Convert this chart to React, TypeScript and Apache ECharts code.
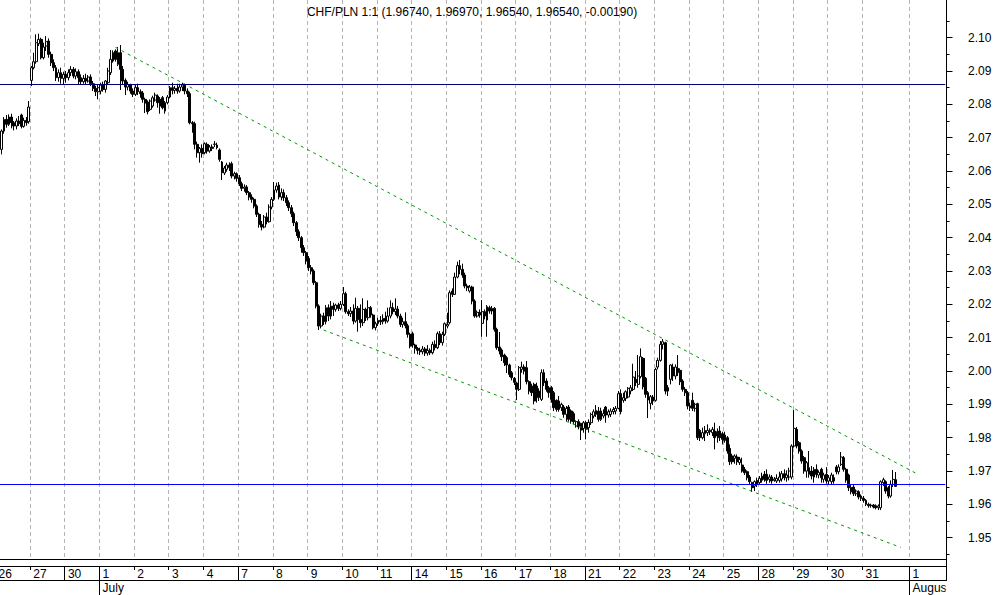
import React, { useEffect, useRef } from "react";
import * as echarts from "echarts";

// ---------- text ----------
const chartTitle = "CHF/PLN 1:1 (1.96740, 1.96970, 1.96540, 1.96540, -0.00190)";

// trading days shown on the x axis (June 26 .. July 31)
const dayLabels = ["26", "27", "30", "1", "2", "3", "4", "7", "8", "9", "10", "11", "14", "15", "16", "17", "18", "21", "22", "23", "24", "25", "28", "29", "30", "31"];
const weekStartIndex = [2, 7, 12, 17, 22]; // Mondays (index into dayLabels)
const monthStartIndex = 3; // July 1
const monthLabels = ["July", "August"];
const nextMonthDayLabel = "1";

// y axis ticks
const yMajorTicks = [1.95, 1.96, 1.97, 1.98, 1.99, 2.0, 2.01, 2.02, 2.03, 2.04, 2.05, 2.06, 2.07, 2.08, 2.09, 2.1];
const yMinorTicks = [1.945, 1.955, 1.965, 1.975, 1.985, 1.995, 2.005, 2.015, 2.025, 2.035, 2.045, 2.055, 2.065, 2.075, 2.085, 2.095, 2.105];
const yMin = 1.94361;
const yMax = 2.11131;

// horizontal levels and trend channel (slot index, price)
const levelUpper = 2.08596;
const levelLower = 1.96596;
const trendUpper = [[48, 2.0971], [371, 1.9694]];
const trendLower = [[132, 2.0123], [365, 1.9471]];

// ---------- candles: [open, close, low, high] ----------
const jun26 = [
  [2.0665, 2.072, 2.065, 2.0725], [2.072, 2.0755, 2.0712, 2.0762], [2.0755, 2.074, 2.073, 2.0768], [2.074, 2.0762, 2.0735, 2.077],
  [2.0762, 2.0745, 2.0728, 2.0772], [2.0745, 2.0735, 2.0722, 2.075], [2.0735, 2.075, 2.0725, 2.0758], [2.075, 2.0742, 2.0735, 2.0765],
  [2.0768, 2.0734, 2.0728, 2.0772], [2.0734, 2.0752, 2.073, 2.076], [2.0752, 2.0745, 2.0736, 2.0762], [2.0748, 2.0792, 2.0742, 2.081],
];
const jun27 = [
  [2.0872, 2.091, 2.0855, 2.0915], [2.091, 2.0928, 2.0905, 2.0955], [2.0928, 2.0985, 2.0922, 2.101], [2.0982, 2.0995, 2.0975, 2.1012],
  [2.0995, 2.094, 2.0935, 2.1], [2.094, 2.0972, 2.0935, 2.0985], [2.0975, 2.0988, 2.096, 2.1005], [2.099, 2.095, 2.094, 2.0998],
  [2.095, 2.0925, 2.0915, 2.0958], [2.0925, 2.091, 2.09, 2.0935], [2.091, 2.088, 2.087, 2.0918], [2.088, 2.0895, 2.0868, 2.0905],
  [2.0895, 2.0878, 2.0862, 2.091], [2.0878, 2.089, 2.086, 2.0898],
];
const jun30 = [
  [2.089, 2.088, 2.0865, 2.09], [2.088, 2.0895, 2.0872, 2.0905], [2.0895, 2.0905, 2.0885, 2.0915], [2.0905, 2.0885, 2.0878, 2.0912],
  [2.0885, 2.0898, 2.0875, 2.0908], [2.0898, 2.088, 2.086, 2.0905], [2.088, 2.0868, 2.0858, 2.089], [2.0868, 2.0878, 2.0862, 2.0888],
  [2.0878, 2.087, 2.086, 2.0892], [2.087, 2.0882, 2.0865, 2.0888], [2.0882, 2.0862, 2.0855, 2.089], [2.0862, 2.0848, 2.084, 2.087],
  [2.0848, 2.0838, 2.0825, 2.0856], [2.0838, 2.085, 2.0815, 2.0858],
];
const jul01 = [
  [2.084, 2.0858, 2.083, 2.0865], [2.0858, 2.0845, 2.0838, 2.0868], [2.0845, 2.087, 2.0835, 2.0873], [2.0865, 2.09, 2.086, 2.091],
  [2.0895, 2.0935, 2.0888, 2.0963], [2.0955, 2.093, 2.0925, 2.0962], [2.096, 2.0935, 2.0928, 2.0965], [2.092, 2.0955, 2.0915, 2.0972],
  [2.0955, 2.0905, 2.0843, 2.0978], [2.0905, 2.087, 2.086, 2.0915], [2.0872, 2.0852, 2.0828, 2.0878], [2.0852, 2.086, 2.0842, 2.0868],
  [2.0858, 2.084, 2.0832, 2.0862], [2.084, 2.083, 2.0822, 2.0848],
];
const jul02 = [
  [2.083, 2.085, 2.0825, 2.0858], [2.085, 2.0838, 2.0828, 2.0862], [2.0838, 2.0832, 2.082, 2.0845], [2.0834, 2.0815, 2.0805, 2.084],
  [2.0815, 2.0804, 2.0774, 2.082], [2.0807, 2.0778, 2.077, 2.0812], [2.0785, 2.081, 2.078, 2.0815], [2.0795, 2.082, 2.079, 2.0826],
  [2.0813, 2.0828, 2.0808, 2.0835], [2.0825, 2.0805, 2.079, 2.083], [2.0815, 2.0795, 2.0772, 2.0822], [2.082, 2.079, 2.0785, 2.0825],
  [2.0805, 2.078, 2.0772, 2.081], [2.0805, 2.0822, 2.08, 2.0828],
];
const jul03 = [
  [2.0822, 2.085, 2.0818, 2.0855], [2.085, 2.0842, 2.083, 2.0865], [2.0842, 2.0848, 2.0832, 2.0855], [2.0848, 2.084, 2.0832, 2.0862],
  [2.084, 2.0852, 2.0835, 2.0862], [2.0852, 2.0858, 2.084, 2.0865], [2.0858, 2.084, 2.083, 2.0862], [2.084, 2.0832, 2.0822, 2.0848],
  [2.0832, 2.0745, 2.074, 2.0838], [2.0745, 2.0742, 2.0715, 2.075], [2.0742, 2.068, 2.0665, 2.0748], [2.068, 2.0655, 2.064, 2.0688],
  [2.0655, 2.0668, 2.0625, 2.0672], [2.0668, 2.0652, 2.064, 2.068],
];
const jul04 = [
  [2.0655, 2.0682, 2.065, 2.0686], [2.068, 2.066, 2.0652, 2.0686], [2.066, 2.0672, 2.0655, 2.0678], [2.0672, 2.0668, 2.066, 2.068],
  [2.068, 2.0681, 2.0672, 2.069], [2.0678, 2.067, 2.0665, 2.0685], [2.0663, 2.0635, 2.0628, 2.0668], [2.0627, 2.0595, 2.0573, 2.063],
  [2.0594, 2.0609, 2.0588, 2.0615], [2.0605, 2.0618, 2.0598, 2.0625], [2.0618, 2.061, 2.06, 2.0626], [2.0622, 2.0585, 2.0578, 2.0628],
  [2.0585, 2.0592, 2.0575, 2.0598], [2.0592, 2.0578, 2.0568, 2.0596],
];
const jul07 = [
  [2.058, 2.0562, 2.0555, 2.0588], [2.0562, 2.0548, 2.054, 2.0568], [2.0548, 2.0552, 2.0538, 2.056], [2.0552, 2.0535, 2.0528, 2.0558],
  [2.0535, 2.0522, 2.0512, 2.054], [2.0522, 2.0515, 2.0505, 2.053], [2.0515, 2.0495, 2.0488, 2.052], [2.0495, 2.047, 2.0462, 2.05],
  [2.047, 2.044, 2.043, 2.0475], [2.044, 2.0432, 2.0422, 2.045], [2.0432, 2.0462, 2.0428, 2.0468], [2.0462, 2.0448, 2.044, 2.0475],
  [2.0448, 2.0492, 2.0445, 2.05], [2.0492, 2.0515, 2.0485, 2.0522],
];
const jul08 = [
  [2.0515, 2.0543, 2.051, 2.0567], [2.0543, 2.0555, 2.0535, 2.0565], [2.0558, 2.0522, 2.0515, 2.0567], [2.0522, 2.0535, 2.0512, 2.0548],
  [2.0535, 2.052, 2.051, 2.0545], [2.052, 2.0505, 2.0495, 2.0528], [2.0505, 2.049, 2.048, 2.0512], [2.049, 2.0472, 2.0462, 2.0498],
  [2.0472, 2.0445, 2.0435, 2.0478], [2.0445, 2.0418, 2.0405, 2.045], [2.0418, 2.04, 2.039, 2.0425], [2.04, 2.037, 2.0355, 2.0405],
  [2.037, 2.0355, 2.0345, 2.0378], [2.0355, 2.033, 2.032, 2.036],
];
const jul09 = [
  [2.0338, 2.031, 2.03, 2.0345], [2.031, 2.03, 2.029, 2.0318], [2.03, 2.0265, 2.0258, 2.0305], [2.0265, 2.0195, 2.0188, 2.027],
  [2.0195, 2.0135, 2.0123, 2.02], [2.0135, 2.0165, 2.0128, 2.0172], [2.0165, 2.0148, 2.0138, 2.0175], [2.0148, 2.019, 2.014, 2.0198],
  [2.019, 2.0165, 2.015, 2.02], [2.0165, 2.0195, 2.0155, 2.021], [2.0195, 2.0185, 2.0165, 2.0205], [2.0185, 2.0198, 2.0178, 2.0202],
  [2.0198, 2.0188, 2.018, 2.0205], [2.0188, 2.02, 2.0182, 2.021],
];
const jul10 = [
  [2.02, 2.0232, 2.0195, 2.0252], [2.0232, 2.0178, 2.0172, 2.0238], [2.0178, 2.0172, 2.0165, 2.0185], [2.0172, 2.018, 2.0162, 2.0192],
  [2.018, 2.015, 2.014, 2.02], [2.015, 2.0188, 2.0145, 2.022], [2.0188, 2.0155, 2.0118, 2.0195], [2.0155, 2.0145, 2.013, 2.02],
  [2.0145, 2.0185, 2.0135, 2.0218], [2.0185, 2.016, 2.015, 2.019], [2.016, 2.019, 2.0152, 2.0212], [2.019, 2.0168, 2.016, 2.0195],
  [2.0168, 2.013, 2.0125, 2.0172], [2.013, 2.0142, 2.0122, 2.0148],
];
const jul11 = [
  [2.0142, 2.0152, 2.0135, 2.016], [2.0152, 2.0148, 2.0138, 2.0165], [2.0148, 2.0158, 2.014, 2.017], [2.0158, 2.015, 2.0142, 2.0178],
  [2.015, 2.0165, 2.0145, 2.019], [2.0165, 2.019, 2.0158, 2.0212], [2.019, 2.0178, 2.017, 2.0205], [2.0178, 2.0186, 2.0168, 2.0218],
  [2.0186, 2.0165, 2.0158, 2.0195], [2.0165, 2.014, 2.0132, 2.0172], [2.014, 2.0148, 2.013, 2.016], [2.0148, 2.0136, 2.0128, 2.0176],
  [2.0136, 2.011, 2.01, 2.0142], [2.011, 2.0075, 2.0068, 2.0115],
];
const jul14 = [
  [2.0112, 2.0078, 2.007, 2.0118], [2.0078, 2.0068, 2.0052, 2.0082], [2.0068, 2.0062, 2.005, 2.0072], [2.0062, 2.0058, 2.0048, 2.007],
  [2.0058, 2.0066, 2.005, 2.0075], [2.0066, 2.0054, 2.0045, 2.0072], [2.0054, 2.0062, 2.0046, 2.0078], [2.0062, 2.0055, 2.0048, 2.0068],
  [2.0055, 2.008, 2.005, 2.0088], [2.008, 2.007, 2.0062, 2.0092], [2.007, 2.0112, 2.0066, 2.0118], [2.0112, 2.0085, 2.0078, 2.012],
  [2.0085, 2.011, 2.0076, 2.0118], [2.011, 2.0142, 2.0105, 2.0146],
];
const jul15 = [
  [2.0135, 2.014, 2.0128, 2.0175], [2.0145, 2.0235, 2.014, 2.0242], [2.024, 2.023, 2.0222, 2.0248], [2.023, 2.0282, 2.0228, 2.0295],
  [2.0282, 2.0316, 2.0278, 2.0328], [2.0316, 2.0305, 2.029, 2.0333], [2.0305, 2.0288, 2.028, 2.0322], [2.0288, 2.0255, 2.0248, 2.0295],
  [2.0255, 2.025, 2.024, 2.0262], [2.024, 2.0252, 2.0235, 2.0258], [2.0252, 2.021, 2.02, 2.0256], [2.021, 2.0165, 2.016, 2.0215],
  [2.0165, 2.0176, 2.016, 2.0182], [2.0176, 2.0168, 2.016, 2.0185],
];
const jul16 = [
  [2.0143, 2.0178, 2.0103, 2.0213], [2.0178, 2.0165, 2.0155, 2.0185], [2.0153, 2.0193, 2.0103, 2.0198], [2.019, 2.018, 2.0172, 2.0196],
  [2.018, 2.0188, 2.017, 2.0195], [2.0188, 2.0125, 2.0118, 2.0192], [2.0125, 2.007, 2.0064, 2.013], [2.0072, 2.006, 2.005, 2.0117],
  [2.0063, 2.0043, 2.003, 2.0068], [2.0048, 2.0025, 2.0015, 2.0052], [2.004, 2.0018, 1.9994, 2.0045], [2.0018, 1.999, 1.9982, 2.0022],
  [1.9995, 1.998, 1.9972, 2.0], [1.9978, 1.9966, 1.9958, 1.9982],
];
const jul17 = [
  [1.9964, 1.9945, 1.9913, 1.9968], [1.9945, 2.001, 1.994, 2.0015], [2.0005, 2.0012, 1.9995, 2.0028], [2.0012, 2.0, 1.999, 2.002],
  [2.001, 1.9968, 1.996, 2.003], [1.9968, 1.994, 1.993, 1.9972], [1.9955, 1.9935, 1.9925, 1.9962], [1.996, 1.991, 1.99, 1.9965],
  [1.9955, 1.992, 1.9905, 1.9965], [1.992, 1.994, 1.991, 1.9948], [1.9915, 1.9995, 1.991, 2.0005], [1.9995, 1.9965, 1.9955, 2.0005],
  [1.997, 1.9945, 1.9938, 1.9978], [1.995, 1.9935, 1.992, 1.9955],
];
const jul18 = [
  [1.995, 1.9915, 1.9905, 1.9955], [1.9935, 1.989, 1.988, 1.994], [1.9912, 1.9885, 1.9878, 1.9915], [1.991, 1.9885, 1.9878, 1.9925],
  [1.989, 1.99, 1.988, 1.9905], [1.9892, 1.987, 1.986, 1.9898], [1.987, 1.9888, 1.985, 1.9895], [1.9892, 1.9855, 1.9848, 1.9898],
  [1.988, 1.985, 1.9842, 1.9885], [1.9872, 1.9848, 1.984, 1.9878], [1.9835, 1.9848, 1.983, 1.9852], [1.9848, 1.9832, 1.9825, 1.9855],
  [1.9842, 1.9823, 1.9793, 1.9845], [1.9828, 1.9845, 1.9815, 1.985],
];
const jul21 = [
  [1.9845, 1.9825, 1.9795, 1.985], [1.983, 1.9846, 1.9815, 1.9855], [1.9845, 1.987, 1.9838, 1.9875], [1.9865, 1.9878, 1.9858, 1.9885],
  [1.987, 1.9882, 1.9862, 1.9898], [1.988, 1.9855, 1.9848, 1.9892], [1.9855, 1.988, 1.985, 1.989], [1.9865, 1.9872, 1.9858, 1.9885],
  [1.9892, 1.9868, 1.9845, 1.9895], [1.9868, 1.9878, 1.986, 1.9885], [1.987, 1.988, 1.9862, 1.9888], [1.9878, 1.9885, 1.987, 1.9892],
  [1.988, 1.9888, 1.987, 1.9895], [1.9888, 1.9932, 1.9885, 1.994],
];
const jul22 = [
  [1.9932, 1.9878, 1.987, 1.9945], [1.9912, 1.992, 1.9905, 1.9935], [1.9918, 1.9938, 1.991, 1.9942], [1.9922, 1.9948, 1.9918, 1.9952],
  [1.994, 1.995, 1.993, 1.9958], [1.9945, 1.9982, 1.994, 2.0022], [1.9975, 1.9965, 1.9955, 2.0], [1.996, 1.9985, 1.995, 2.0048],
  [1.9983, 2.0043, 1.9978, 2.0068], [2.0038, 1.9953, 1.9945, 2.0042], [1.9978, 1.993, 1.992, 1.9982], [1.9935, 1.9913, 1.9859, 1.994],
  [1.9903, 1.9923, 1.9885, 1.9928], [1.9922, 1.991, 1.9898, 1.9928],
];
const jul23 = [
  [1.9912, 2.0005, 1.9908, 2.001], [2.0012, 2.0032, 2.0005, 2.004], [2.0032, 2.008, 2.0028, 2.009], [2.008, 2.0088, 2.0065, 2.0096],
  [2.0085, 1.994, 1.993, 2.0088], [1.995, 1.994, 1.9925, 1.9958], [1.9975, 2.0018, 1.996, 2.002], [2.0012, 1.9985, 1.997, 2.0022],
  [1.9985, 2.0012, 1.9975, 2.002], [2.0008, 1.9995, 1.9985, 2.0048], [2.0002, 1.9968, 1.9958, 2.0008], [1.997, 1.9945, 1.9938, 1.9975],
  [1.9945, 1.9935, 1.9925, 1.9952], [1.9935, 1.9895, 1.9885, 1.994],
];
const jul24 = [
  [1.9895, 1.989, 1.988, 1.9905], [1.9912, 1.9888, 1.988, 1.9935], [1.9888, 1.99, 1.9878, 1.9905], [1.9902, 1.98, 1.9793, 1.9905],
  [1.9822, 1.98, 1.979, 1.9826], [1.98, 1.9815, 1.9795, 1.983], [1.9812, 1.9822, 1.979, 1.9835], [1.9815, 1.9822, 1.9805, 1.984],
  [1.9822, 1.9818, 1.9808, 1.9828], [1.9815, 1.9825, 1.9805, 1.9832], [1.982, 1.98, 1.9765, 1.9845], [1.9818, 1.9805, 1.9785, 1.9828],
  [1.982, 1.98, 1.979, 1.9835], [1.9812, 1.9795, 1.978, 1.9818],
];
const jul25 = [
  [1.9808, 1.9792, 1.9785, 1.9818], [1.98, 1.976, 1.9752, 1.9805], [1.9768, 1.9728, 1.9718, 1.978], [1.9745, 1.9728, 1.972, 1.9752],
  [1.9738, 1.9745, 1.9722, 1.975], [1.9742, 1.9728, 1.9718, 1.975], [1.9725, 1.9735, 1.9718, 1.9742], [1.9718, 1.97, 1.9695, 1.974],
  [1.9705, 1.9695, 1.9688, 1.9712], [1.9698, 1.968, 1.9672, 1.9702], [1.9682, 1.9668, 1.966, 1.9688], [1.9665, 1.965, 1.9637, 1.9668],
  [1.9655, 1.9668, 1.964, 1.9672], [1.9672, 1.966, 1.9652, 1.968],
];
const jul28 = [
  [1.9665, 1.9678, 1.9658, 1.9685], [1.9672, 1.9685, 1.9665, 1.9695], [1.969, 1.9675, 1.9668, 1.97], [1.969, 1.9672, 1.9662, 1.9705],
  [1.9675, 1.9682, 1.9665, 1.969], [1.9682, 1.967, 1.9662, 1.9688], [1.9672, 1.9676, 1.9668, 1.9682], [1.967, 1.9678, 1.9664, 1.969],
  [1.9672, 1.9682, 1.9665, 1.9698], [1.9676, 1.9692, 1.9668, 1.97], [1.9692, 1.968, 1.9672, 1.9705], [1.968, 1.9688, 1.9668, 1.9702],
  [1.9682, 1.97, 1.9672, 1.971], [1.9682, 1.9775, 1.9675, 1.978],
];
const jul29 = [
  [1.9775, 1.9828, 1.977, 1.9883], [1.9825, 1.9775, 1.9768, 1.9832], [1.9785, 1.976, 1.9752, 1.979], [1.976, 1.973, 1.9722, 1.9765],
  [1.974, 1.97, 1.9692, 1.9745], [1.97, 1.9725, 1.968, 1.973], [1.971, 1.969, 1.968, 1.976], [1.97, 1.9685, 1.9675, 1.9715],
  [1.9682, 1.9705, 1.9665, 1.9712], [1.9705, 1.969, 1.968, 1.972], [1.9688, 1.9696, 1.9678, 1.9702], [1.9705, 1.968, 1.9665, 1.971],
  [1.9675, 1.9688, 1.9665, 1.9695], [1.969, 1.967, 1.9662, 1.9712],
];
const jul30 = [
  [1.967, 1.968, 1.966, 1.9688], [1.9668, 1.9688, 1.966, 1.9695], [1.968, 1.967, 1.9662, 1.969], [1.9712, 1.9698, 1.969, 1.9718],
  [1.9698, 1.9712, 1.969, 1.972], [1.972, 1.9742, 1.9715, 1.9757], [1.974, 1.9705, 1.9698, 1.9745], [1.9705, 1.9673, 1.9665, 1.971],
  [1.9688, 1.965, 1.964, 1.9692], [1.965, 1.9638, 1.963, 1.9658], [1.9652, 1.9632, 1.9625, 1.966], [1.9632, 1.964, 1.9625, 1.9645],
  [1.9638, 1.9622, 1.9615, 1.9642], [1.9625, 1.9618, 1.961, 1.963],
];
const jul31 = [
  [1.9618, 1.9612, 1.9605, 1.9625], [1.9612, 1.96, 1.9595, 1.9616], [1.96, 1.9596, 1.959, 1.9605], [1.9596, 1.9598, 1.959, 1.9602],
  [1.9598, 1.9592, 1.9588, 1.9601], [1.9596, 1.959, 1.9585, 1.96], [1.959, 1.9595, 1.9583, 1.96], [1.959, 1.9668, 1.9583, 1.9672],
  [1.9665, 1.9674, 1.9655, 1.968], [1.9668, 1.964, 1.9632, 1.9672], [1.965, 1.9625, 1.9618, 1.9655], [1.9625, 1.966, 1.962, 1.9672],
  [1.966, 1.9675, 1.9652, 1.9703], [1.9674, 1.9654, 1.9654, 1.9697],
];

const dayCandles = [jun26, jun27, jun30, jul01, jul02, jul03, jul04, jul07, jul08, jul09, jul10, jul11, jul14, jul15, jul16, jul17, jul18, jul21, jul22, jul23, jul24, jul25, jul28, jul29, jul30, jul31];

// ---------- slot layout ----------
const SLOTS_PER_DAY = 14;
const GAP_BEFORE_NEXT_MONTH = 5;
const TAIL_SLOTS = 15;

const FONT = '"Liberation Sans", Arial, Helvetica, sans-serif';

function levelSeries(level: number, color: string, lastSlot: number) {
  return {
    type: "line",
    xAxisIndex: 0,
    yAxisIndex: 0,
    data: [[0, level], [lastSlot, level]],
    showSymbol: false,
    symbol: "none",
    silent: true,
    z: 5,
    color,
    itemStyle: { color },
    lineStyle: { color, width: 1, type: "solid", opacity: 1 },
    emphasis: { disabled: true },
  };
}

function buildOption() {
  const nDays = dayLabels.length;
  const nextMonthSlot = nDays * SLOTS_PER_DAY + GAP_BEFORE_NEXT_MONTH;
  const totalSlots = nextMonthSlot + TAIL_SLOTS;
  const slotNames = Array.from({ length: totalSlots }, (_, i) => String(i));

  const dayLabelAt: Record<number, string> = {};
  dayLabels.forEach((d, k) => {
    dayLabelAt[k * SLOTS_PER_DAY] = d;
  });
  dayLabelAt[nextMonthSlot] = nextMonthDayLabel;

  const separatorSlots = new Set<number>([
    ...weekStartIndex.map((k) => k * SLOTS_PER_DAY),
    monthStartIndex * SLOTS_PER_DAY,
    nextMonthSlot,
  ]);
  const monthLabelAt: Record<number, string> = {
    [monthStartIndex * SLOTS_PER_DAY]: monthLabels[0],
    [nextMonthSlot]: monthLabels[1],
  };

  const isDayStart = (i: number) => dayLabelAt[i] !== undefined;
  const isSeparator = (i: number) => separatorSlots.has(i);
  const isMonthStart = (i: number) => monthLabelAt[i] !== undefined;

  const candleData: number[][] = [];
  dayCandles.forEach((arr, k) => {
    const start = k * SLOTS_PER_DAY + (SLOTS_PER_DAY - arr.length);
    arr.forEach((c, j) => candleData.push([start + j, c[0], c[1], c[2], c[3]]));
  });

  const black = "#000";
  const baseCat = { type: "category", data: slotNames, boundaryGap: true, gridIndex: 0, position: "bottom" };

  return {
    animation: false,
    backgroundColor: "#fff",
    grid: { left: -4.65, right: 47.5, top: 0, bottom: 36, containLabel: false, outerBoundsMode: "none" },
    xAxis: [
      {
        ...baseCat,
        offset: 0,
        axisLine: { show: true, lineStyle: { color: black, width: 1 } },
        axisTick: { show: false },
        axisLabel: { show: false },
        splitLine: { show: true, interval: isDayStart, lineStyle: { color: "#b4b4b4", width: 1, type: [4, 3] } },
      },
      {
        ...baseCat,
        offset: 7,
        axisLine: { show: true, lineStyle: { color: black, width: 1 } },
        axisTick: { show: true, interval: isDayStart, length: 4, lineStyle: { color: black, width: 1 } },
        axisLabel: {
          show: true,
          interval: isDayStart,
          formatter: (v: string) => dayLabelAt[Number(v)] ?? "",
          align: "left",
          margin: 2,
          padding: [0, 0, 0, 2],
          color: black,
          fontSize: 12,
          fontFamily: FONT,
          hideOverlap: false,
        },
        splitLine: { show: false },
      },
      {
        ...baseCat,
        offset: 21,
        axisLine: { show: true, lineStyle: { color: black, width: 1 } },
        axisTick: { show: true, interval: isSeparator, inside: true, length: 14, lineStyle: { color: black, width: 1 } },
        axisLabel: { show: false },
        splitLine: { show: false },
      },
      {
        ...baseCat,
        offset: 21,
        axisLine: { show: false },
        axisTick: { show: true, interval: isMonthStart, length: 15, lineStyle: { color: black, width: 1 } },
        axisLabel: {
          show: true,
          interval: isMonthStart,
          formatter: (v: string) => monthLabelAt[Number(v)] ?? "",
          align: "left",
          margin: 2,
          padding: [0, 0, 0, 2],
          color: black,
          fontSize: 12,
          fontFamily: FONT,
          hideOverlap: false,
        },
        splitLine: { show: false },
      },
    ],
    yAxis: [
      {
        type: "value",
        position: "right",
        min: yMin,
        max: yMax,
        axisLine: { show: true, lineStyle: { color: black, width: 1 } },
        axisTick: { show: true, length: 6, customValues: yMajorTicks, lineStyle: { color: black, width: 1 } },
        axisLabel: {
          show: true,
          customValues: yMajorTicks,
          formatter: (v: number) => v.toFixed(2),
          margin: 21.5,
          color: black,
          fontSize: 12,
          fontFamily: FONT,
        },
        splitLine: { show: false },
      },
      {
        type: "value",
        position: "right",
        min: yMin,
        max: yMax,
        axisLine: { show: false },
        axisTick: { show: true, length: 3, customValues: yMinorTicks, lineStyle: { color: black, width: 1 } },
        axisLabel: { show: false },
        splitLine: { show: false },
      },
    ],
    series: [
      {
        type: "candlestick",
        xAxisIndex: 0,
        yAxisIndex: 0,
        data: candleData,
        encode: { x: 0, y: [1, 2, 3, 4] },
        barWidth: 2.4,
        itemStyle: {
          color: "#fff",
          color0: "#000",
          borderColor: "#000",
          borderColor0: "#000",
          borderColorDoji: "#000",
          borderWidth: 1,
        },
        markLine: {
          silent: true,
          precision: 6,
          symbol: ["none", "none"],
          label: { show: false },
          lineStyle: { color: "#009900", width: 1, type: [3, 4] },
          data: [
            [{ coord: trendUpper[0] }, { coord: trendUpper[1] }],
            [{ coord: trendLower[0] }, { coord: trendLower[1] }],
          ],
        },
      },
      levelSeries(levelUpper, "#000070", totalSlots - 1),
      levelSeries(levelLower, "#0000ff", totalSlots - 1),
    ],
    graphic: [
      {
        type: "text",
        x: 472,
        y: 11.5,
        z: 10,
        style: {
          text: chartTitle,
          font: '12px "Liberation Sans", Arial, sans-serif',
          fill: "#000",
          align: "center",
          verticalAlign: "middle",
          textAlign: "center",
          textVerticalAlign: "middle",
        },
      },
      {
        type: "line",
        z: 10,
        shape: { x1: 946.5, y1: 559, x2: 946.5, y2: 566 },
        style: { stroke: "#000", lineWidth: 1 },
      },
      {
        type: "rect",
        z: 100,
        shape: { x: 945.8, y: 581, width: 50, height: 14 },
        style: { fill: "#fff" },
      },
    ],
  };
}

export default function App() {
  const ref = useRef<HTMLDivElement>(null);
  useEffect(() => {
    document.body.style.margin = "0";
    const chart = echarts.init(ref.current as HTMLDivElement, null, { renderer: "svg" });
    chart.setOption(buildOption() as any);
    return () => chart.dispose();
  }, []);
  return <div ref={ref} style={{ width: 994, height: 595, background: "#fff" }} />;
}
